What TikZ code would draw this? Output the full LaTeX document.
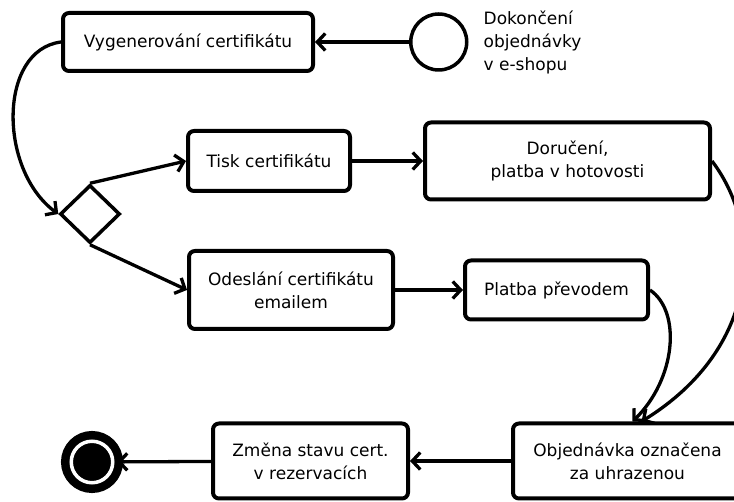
\documentclass[tikz,border=0pt]{standalone}
\usepackage{fontspec}
\setmainfont{DejaVu Sans}
\usepackage{tikz}
\usetikzlibrary{arrows.meta, shapes, calc, positioning}
\tikzset {
    activity/.style = {
        draw,
        shape = rectangle,
        rounded corners = 6pt,
        line width = 4pt,
        align = center,
        inner sep = 0pt,
        font = {\fontsize{17}{23}\selectfont}
    },
    decision/.style = {
        draw,
        shape = diamond,
        line width = 3.5pt,
        inner sep = 0pt,
        minimum width = 60pt,
        minimum height = 58pt
    },
    startpoint/.style = {
        draw,
        shape = circle,
        line width = 3.5pt,
        minimum size = 56pt
    },
    endpoint/.style = {
        draw = black,
        shape = circle,
        fill = black,
        double = white,
        double distance = 3.5pt,
        line width = 8.5pt,
        inner sep = 0pt,
        minimum size = 41.5pt
    },
    note/.style = {
        align = left,
        inner sep = 0pt,
        font = {\fontsize{17}{23}\selectfont}
    },
    flow/.style = {
        ->,
        >={Straight Barb[length=8pt, width=17pt]},
        line width = 3.3pt
    }
}
\begin{document}
\begin{tikzpicture}[x=1pt, y=-1pt]
        \useasboundingbox (0, 0) rectangle (734, 502);

        % Top row : order finished, generating the certificate
        \node [activity, minimum width=250pt, minimum height=58pt] at (188, 42)     (gen)       {Vygenerování certifikátu};
        \node [startpoint, right=94pt of gen]                                     (start)     {};
        \node [note, right=15pt of start]                                         (startlbl)  {Dokončení\\objednávky\\v e-shopu};

        % Decision between print and email
        \node [decision] at (90, 214)                                             (choice)    {};
        \node [activity, minimum width=162pt, minimum height=60pt] at (269, 161)  (print)     {Tisk certifikátu};
        \node [activity, minimum width=285pt, minimum height=77pt, right=71pt of print] (deliver) {Doručení,\\platba v hotovosti};
        \node [activity, minimum width=204pt, minimum height=78pt] at (291, 290)  (email)     {Odeslání certifikátu\\emailem};
        \node [activity, minimum width=183pt, minimum height=59pt, right=68pt of email] (transfer) {Platba převodem};

        % Bottom row : paid, status change, end
        \node [activity, minimum width=229pt, minimum height=75pt] at (627.5, 461) (paid)     {Objednávka označena\\za uhrazenou};
        \node [activity, minimum width=195pt, minimum height=75pt, left=101pt of paid] (change) {Změna stavu cert.\\v rezervacích};
        \node [endpoint] at (92, 462)                                             (stop)      {};

        \draw [flow]    (start)         --  (gen);
        \draw [flow]    (gen.west)      .. controls +(-63, 8) and +(-60, -44) .. (choice.west);
        \draw [flow]    (choice.north)  --  (print.west);
        \draw [flow]    (choice.south)  --  (email.west);
        \draw [flow]    (print)         --  (deliver);
        \draw [flow]    (email)         --  (transfer);
        \draw [flow]    (deliver.east)  .. controls +(53, 70) and +(118, -73) .. ([xshift=14pt]paid.north);
        \draw [flow]    (transfer.east) .. controls +(32, 22) and +(43, -42) .. ([xshift=5pt]paid.north);
        \draw [flow]    (paid)          --  (change);
        \draw [flow]    (change)        --  (stop);
\end{tikzpicture}
\end{document}
